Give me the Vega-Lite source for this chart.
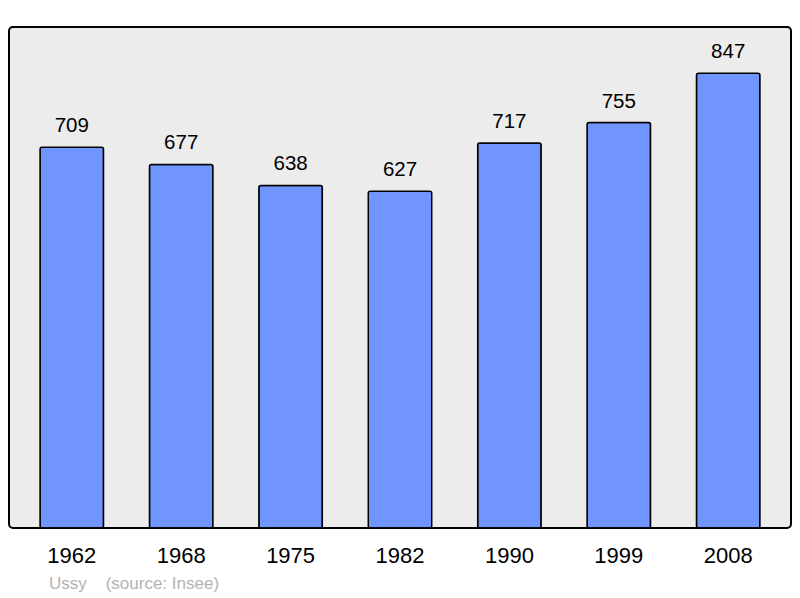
{
  "$schema": "https://vega.github.io/schema/vega-lite/v6.json",
  "width": 782,
  "height": 501,
  "autosize": {"type": "none"},
  "padding": {"left": 9, "top": 27, "right": 9, "bottom": 70},
  "background": "white",
  "config": {
    "view": {"fill": "#ececec", "stroke": "#000000", "strokeWidth": 2, "cornerRadius": 4},
    "font": "Liberation Sans"
  },
  "title": {
    "text": "Ussy\u00a0\u00a0\u00a0\u00a0(source: Insee)",
    "orient": "bottom",
    "anchor": "start",
    "dx": 40,
    "offset": 10,
    "fontSize": 17,
    "fontWeight": "normal",
    "color": "#b3b3b3",
    "font": "Liberation Sans"
  },
  "data": {
    "values": [
      {"year": "1962", "population": 709},
      {"year": "1968", "population": 677},
      {"year": "1975", "population": 638},
      {"year": "1982", "population": 627},
      {"year": "1990", "population": 717},
      {"year": "1999", "population": 755},
      {"year": "2008", "population": 847}
    ]
  },
  "encoding": {
    "x": {
      "field": "year",
      "type": "ordinal",
      "sort": null,
      "scale": {"paddingInner": 0.42, "paddingOuter": 0.284},
      "axis": {"title": null, "domain": false, "ticks": false, "labelAngle": 0, "labelFontSize": 22, "labelColor": "#000000", "labelPadding": 17, "labelFont": "Liberation Sans"}
    },
    "y": {
      "field": "population",
      "type": "quantitative",
      "scale": {"domain": [0, 933], "nice": false, "zero": true},
      "axis": null
    }
  },
  "layer": [
    {
      "mark": {"type": "bar", "fill": "#7095ff", "stroke": "#000000", "strokeWidth": 1.5, "cornerRadius": 2}
    },
    {
      "mark": {"type": "text", "baseline": "bottom", "dy": -11, "fontSize": 20.5, "color": "#000000", "font": "Liberation Sans"},
      "encoding": {"text": {"field": "population", "type": "quantitative"}}
    }
  ]
}
